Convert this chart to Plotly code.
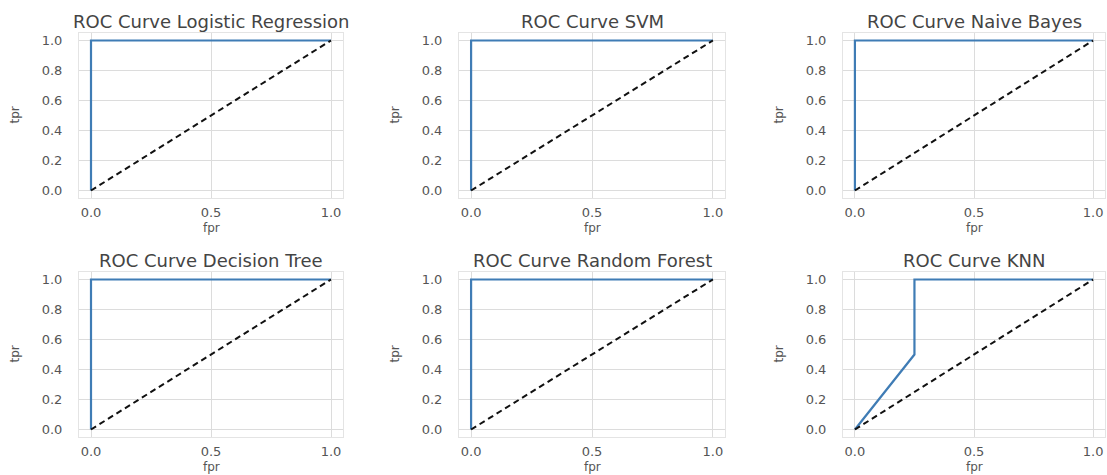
import plotly.graph_objects as go

# ---- data ----
titles = ["ROC Curve Logistic Regression", "ROC Curve SVM", "ROC Curve Naive Bayes",
          "ROC Curve Decision Tree", "ROC Curve Random Forest", "ROC Curve KNN"]
fpr_lr = [0.0, 0.0, 1.0]
tpr_lr = [0.0, 1.0, 1.0]
fpr_svm = [0.0, 0.0, 1.0]
tpr_svm = [0.0, 1.0, 1.0]
fpr_nb = [0.0, 0.0, 1.0]
tpr_nb = [0.0, 1.0, 1.0]
fpr_dt = [0.0, 0.0, 1.0]
tpr_dt = [0.0, 1.0, 1.0]
fpr_rf = [0.0, 0.0, 1.0]
tpr_rf = [0.0, 1.0, 1.0]
fpr_knn = [0.0, 0.25, 0.25, 1.0]
tpr_knn = [0.0, 0.5, 1.0, 1.0]
diag = [0.0, 1.0]
x_ticks = [0.0, 0.5, 1.0]
y_ticks = [0.0, 0.2, 0.4, 0.6, 0.8, 1.0]

curves = [(fpr_lr, tpr_lr), (fpr_svm, tpr_svm), (fpr_nb, tpr_nb),
          (fpr_dt, tpr_dt), (fpr_rf, tpr_rf), (fpr_knn, tpr_knn)]

W, H = 1107, 475
col_px = [(79, 343), (459, 725), (843, 1105)]
row_px = [(33, 198), (272, 437)]

FONT = "DejaVu Sans"
LINE = "#3f7cb5"
GRID = "#dcdcdc"
TICK = "#555555"


def fx_(p):
    return p / W


def fy_(p):
    return 1 - p / H


fig = go.Figure()
layout = dict(width=W, height=H, margin=dict(l=0, r=0, t=0, b=0),
              paper_bgcolor="white", plot_bgcolor="white", showlegend=False,
              font=dict(family=FONT, color=TICK))
annotations = []
for i, (fx, ty) in enumerate(curves):
    r, c = divmod(i, 3)
    xa = "x" if i == 0 else f"x{i+1}"
    ya = "y" if i == 0 else f"y{i+1}"
    fig.add_trace(go.Scatter(x=fx, y=ty, mode="lines", xaxis=xa, yaxis=ya,
                             line=dict(color=LINE, width=2.2)))
    fig.add_trace(go.Scatter(x=diag, y=diag, mode="lines", xaxis=xa, yaxis=ya,
                             line=dict(color="#111111", width=2, dash="6px,4px")))
    x0, x1 = col_px[c]
    y0, y1 = row_px[r]
    kx = "xaxis" if i == 0 else f"xaxis{i+1}"
    ky = "yaxis" if i == 0 else f"yaxis{i+1}"
    layout[kx] = dict(domain=[fx_(x0), fx_(x1)], anchor=ya, range=[-0.05, 1.05],
                      tickvals=x_ticks, tickformat=".1f", showgrid=True, gridcolor=GRID,
                      gridwidth=1, zeroline=False, showline=True, linecolor="#e4e4e4",
                      mirror=True, ticks="", ticklabelstandoff=2, ticklabeloverflow="allow",
                      tickfont=dict(size=13, color=TICK))
    layout[ky] = dict(domain=[fy_(y1), fy_(y0)], anchor=xa, range=[-0.05, 1.05],
                      tickvals=y_ticks, tickformat=".1f", showgrid=True, gridcolor=GRID,
                      gridwidth=1, zeroline=False, showline=True, linecolor="#e4e4e4",
                      mirror=True, ticks="", ticklabelstandoff=13, ticklabeloverflow="allow",
                      tickfont=dict(size=13, color=TICK))
    cx = (x0 + x1) / 2
    annotations.append(dict(text=titles[i], x=fx_(cx), y=fy_(y0 - 12), xref="paper", yref="paper",
                            showarrow=False, xanchor="center", yanchor="middle",
                            font=dict(size=18, color="#444444", family=FONT)))
    annotations.append(dict(text="fpr", x=fx_(cx), y=fy_(y1 + 30), xref="paper", yref="paper",
                            showarrow=False, xanchor="center", yanchor="middle",
                            font=dict(size=12, color=TICK, family=FONT)))
    annotations.append(dict(text="tpr", x=fx_(x0 - 65), y=fy_((y0 + y1) / 2),
                            xref="paper", yref="paper", textangle=-90,
                            showarrow=False, xanchor="center", yanchor="middle",
                            font=dict(size=12, color=TICK, family=FONT)))

layout["annotations"] = annotations
fig.update_layout(**layout)
fig.write_html("out.html", config={"displayModeBar": False},
               post_script="document.body.style.margin='0';document.body.style.overflow='hidden';")
